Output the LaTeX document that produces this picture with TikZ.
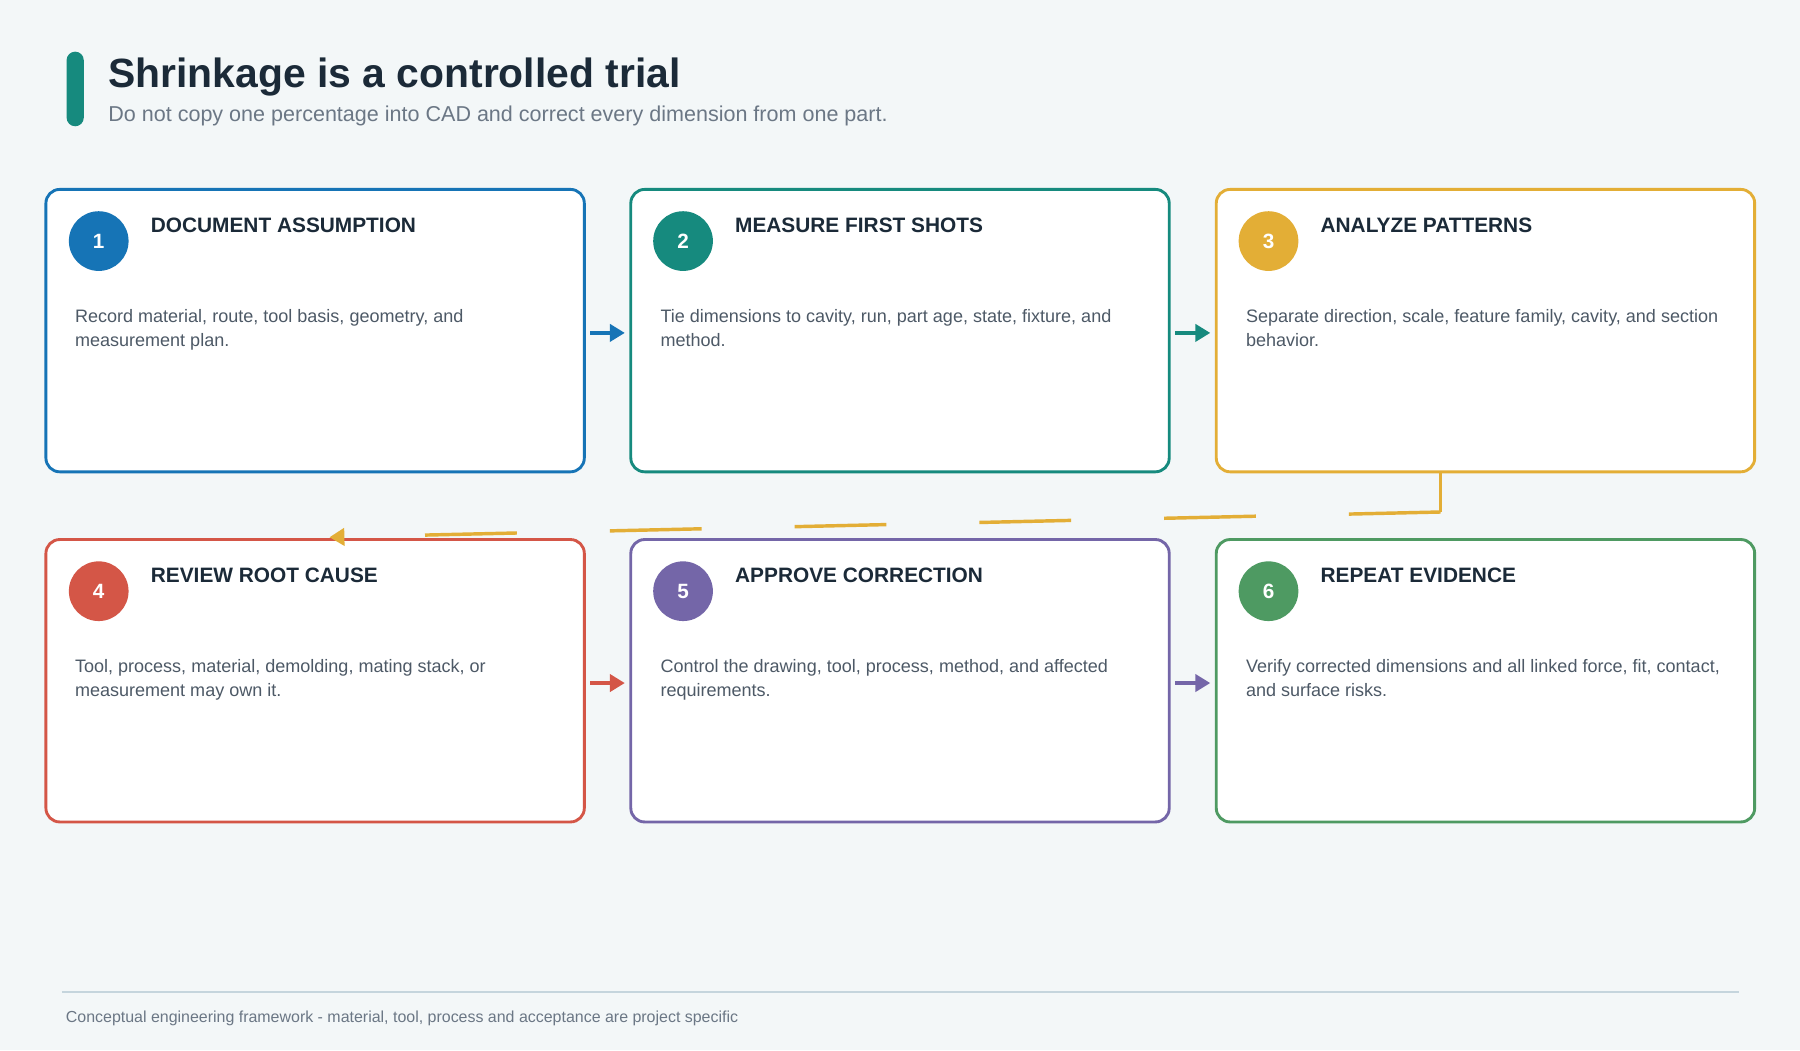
\documentclass[tikz,border=0pt]{standalone}
\usepackage{fontspec}
\setmainfont{Liberation Sans}
\usetikzlibrary{arrows.meta,calc}
\definecolor{bgc}{HTML}{F3F7F8}
\definecolor{ink}{HTML}{1B2A38}
\definecolor{subc}{HTML}{6B7785}
\definecolor{bodyc}{HTML}{4D5966}
\definecolor{rulec}{HTML}{C5D5DD}
\definecolor{cblue}{HTML}{1674B6}
\definecolor{cteal}{HTML}{168A7E}
\definecolor{cyell}{HTML}{E3AE36}
\definecolor{cred}{HTML}{D45647}
\definecolor{cpurp}{HTML}{7466A8}
\definecolor{cgreen}{HTML}{4E9A62}
\tikzset{
  card/.style={draw=#1, line width=1.25pt, fill=white, rounded corners=6pt,
    minimum width=234.5pt, minimum height=123pt, inner sep=0pt},
  badge/.style={circle, fill=#1, minimum size=26pt, inner sep=0pt,
    text=white, font=\fontsize{9}{10}\selectfont\bfseries},
  heading/.style={anchor=base west, inner sep=0pt, text=ink,
    font=\fontsize{9.08}{10}\selectfont\bfseries},
  bodytext/.style={anchor=base west, inner sep=0pt, text=bodyc, align=left,
    font=\fontsize{7.85}{10.5}\selectfont},
  flow/.style={draw=#1, line width=1.5pt, -{Triangle[length=6.5pt,width=7.5pt]}},
}
\begin{document}
\begin{tikzpicture}[x=0.5pt,y=-0.5pt]
\useasboundingbox[fill=bgc] (0,0) rectangle (1568,915);
% title
\fill[cteal, rounded corners=3.75pt] (58,45) rectangle (73,110);
\node[anchor=base west, inner sep=0pt, text=ink, font=\fontsize{17.8}{20}\selectfont\bfseries] (title) at (94,76) {Shrinkage is a controlled trial};
\node[anchor=base west, inner sep=0pt, text=subc, font=\fontsize{9.38}{11}\selectfont] (subtitle) at (94,106) {Do not copy one percentage into CAD and correct every dimension from one part.};
% cards
\node[card=cblue]  (b1) at (274.5,288) {};
\node[card=cteal]  (b2) at (784,288) {};
\node[card=cyell]  (b3) at (1294,288) {};
\node[card=cred]   (b4) at (274.5,593) {};
\node[card=cpurp]  (b5) at (784,593) {};
\node[card=cgreen] (b6) at (1294,593) {};
% badges
\node[badge=cblue]  (n1) at (86,210) {1};
\node[badge=cteal]  (n2) at (595,210) {2};
\node[badge=cyell]  (n3) at (1105,210) {3};
\node[badge=cred]   (n4) at (86,515) {4};
\node[badge=cpurp]  (n5) at (595,515) {5};
\node[badge=cgreen] (n6) at (1105,515) {6};
% headings
\node[heading] (h1) at (131,202.5) {DOCUMENT ASSUMPTION};
\node[heading] (h2) at (640,202.5) {MEASURE FIRST SHOTS};
\node[heading] (h3) at (1150,202.5) {ANALYZE PATTERNS};
\node[heading] (h4) at (131,507.5) {REVIEW ROOT CAUSE};
\node[heading] (h5) at (640,507.5) {APPROVE CORRECTION};
\node[heading] (h6) at (1150,507.5) {REPEAT EVIDENCE};
% bodies
\node[bodytext] (t1) at (65,302) {Record material, route, tool basis, geometry, and\\measurement plan.};
\node[bodytext] (t2) at (575,302) {Tie dimensions to cavity, run, part age, state, fixture, and\\method.};
\node[bodytext] (t3) at (1085,302) {Separate direction, scale, feature family, cavity, and section\\behavior.};
\node[bodytext] (t4) at (65,607) {Tool, process, material, demolding, mating stack, or\\measurement may own it.};
\node[bodytext] (t5) at (575,607) {Control the drawing, tool, process, method, and affected\\requirements.};
\node[bodytext] (t6) at (1085,607) {Verify corrected dimensions and all linked force, fit, contact,\\and surface risks.};
% connectors
\draw[flow=cblue]  ($(b1.east)+(4,2)$) -- ($(b2.west)+(-4,2)$);
\draw[flow=cteal]  ($(b2.east)+(4,2)$) -- ($(b3.west)+(-4,2)$);
\draw[flow=cred]   ($(b4.east)+(4,2)$) -- ($(b5.west)+(-4,2)$);
\draw[flow=cpurp]  ($(b5.east)+(4,2)$) -- ($(b6.west)+(-4,2)$);
\coordinate (c1) at (1255,446);
\coordinate (c2) at (287,468);
\draw[cyell, line width=1.5pt] (b3.south -| c1) -- (c1);
\draw[cyell, line width=1.5pt, dash pattern=on 40pt off 40.5pt, -{Triangle[length=6.5pt,width=7.5pt]}] (c1) -- (c2);
% footer
\draw[rulec, line width=1pt] (54,864) -- (1515,864);
\node[anchor=base west, inner sep=0pt, text=subc, font=\fontsize{6.95}{8}\selectfont] (foot) at (57,890.5) {Conceptual engineering framework - material, tool, process and acceptance are project specific};
\end{tikzpicture}
\end{document}
